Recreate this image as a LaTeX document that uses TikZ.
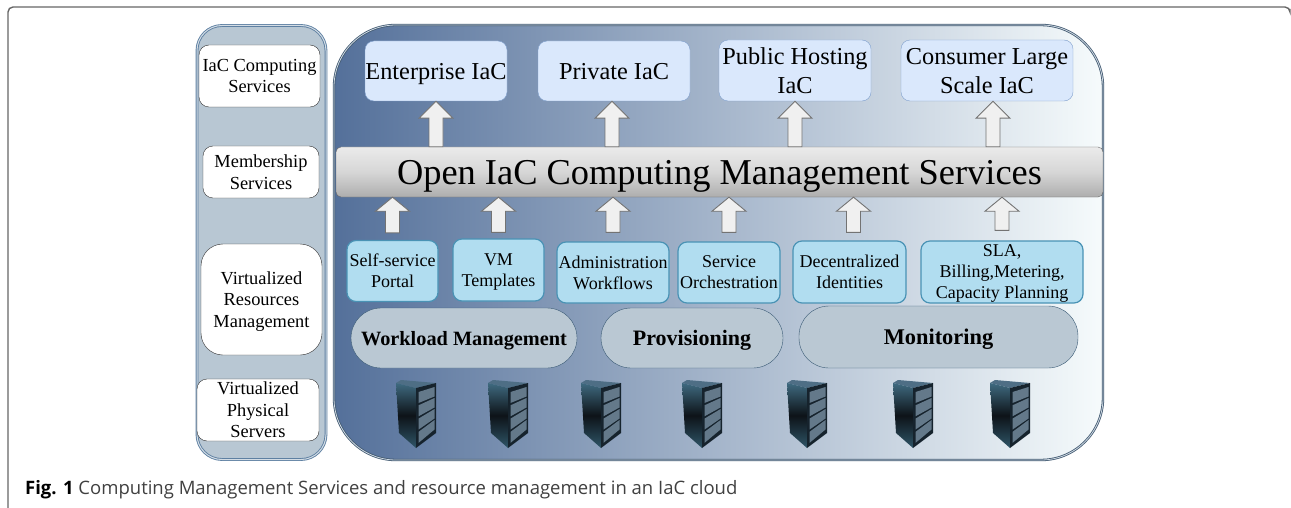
\documentclass[tikz,border=0pt]{standalone}
\usepackage{fontspec}
\setmainfont{Liberation Serif}
\setsansfont{Open Sans}
\usetikzlibrary{calc}

\definecolor{panL}{HTML}{54709A}
\definecolor{panM}{HTML}{A3B2C7}
\definecolor{panR}{HTML}{F6FBFC}
\definecolor{sideF}{HTML}{B8C7D3}
\definecolor{sideD}{HTML}{5E80A2}
\definecolor{topF}{HTML}{DAE8FC}
\definecolor{topD}{HTML}{7F9FCC}
\definecolor{smF}{HTML}{B1DDF0}
\definecolor{smD}{HTML}{4A93B5}
\definecolor{pillF}{HTML}{BAC8D3}
\definecolor{pillD}{HTML}{3A5A75}
\definecolor{srvT}{HTML}{4E6E85}
\definecolor{srvA}{HTML}{3F6A80}
\definecolor{srvB}{HTML}{0D1318}
\definecolor{srvC}{HTML}{2F5568}
\definecolor{srvF}{HTML}{16232D}
\definecolor{srvS}{HTML}{64798A}

\tikzset{
  sidebox/.style={draw=black!80, fill=white, rounded corners=10pt, inner sep=0pt, align=center, font=\fontsize{18.4}{21.5}\selectfont},
  topbox/.style={draw=topD, fill=topF, rounded corners=9pt, inner sep=0pt, align=center, text depth=-2pt, font=\fontsize{24.3}{29}\selectfont},
  smbox/.style={draw=smD, fill=smF, line width=1.2pt, rounded corners=9pt, inner sep=0pt, align=center, text depth=-2pt, font=\fontsize{18}{21}\selectfont},
  pill/.style={draw=pillD, fill=pillF, rounded corners=30pt, inner sep=0pt, text depth=0pt},
  fatarrow/.style={draw=black!55, fill=black!6, line width=0.9pt},
  server/.pic={
    \fill[srvT] (0,4) -- (5,1) -- (40,4) -- (20,9) -- cycle;
    \shade[top color=srvA, bottom color=srvC, middle color=srvB] (0,4) -- (20,9) -- (20,69) -- (3,54) -- cycle;
    \fill[srvF] (20,9) -- (40,4) -- (40,54) -- (20,69) -- cycle;
    \foreach \s in {0,1,2,3}
      \fill[srvS] (22.5,{13+13.3*\s}) -- (38.5,{8+11*\s}) -- (38.5,{17.5+11*\s}) -- (22.5,{24+13.3*\s}) -- cycle;
  }
}

% tail point, tip point, optional head height
\newcommand{\fatarrow}[3][14]{
  \draw[fatarrow] let \p1=#2, \p2=#3 in
    ({\x2-7pt},\y1) -- ({\x2-7pt},{\y2-#1pt}) -- ({\x2-17pt},{\y2-#1pt}) -- (\x2,\y2)
    -- ({\x2+17pt},{\y2-#1pt}) -- ({\x2+7pt},{\y2-#1pt}) -- ({\x2+7pt},\y1) -- cycle;
}

\begin{document}
\begin{tikzpicture}[x=1pt,y=-1pt]
\useasboundingbox (0,0) rectangle (1291,508);

% frame and caption
\draw[black!60, line width=1.4pt, rounded corners=5pt] (8,508) -- (8,7) -- (1290,7) -- (1290,9);
\node [anchor=base west, inner sep=0pt, font=\sffamily\fontsize{18.5}{22}\selectfont, text=black!75] (cap) at (25,494)
  {\textbf{\textcolor{black}{Fig. 1}} Computing Management Services and resource management in an IaC cloud};

% side column
\node [draw=sideD, fill=sideF, double=sideF!60, double distance=1pt, line width=0.9pt, rounded corners=25pt, minimum width=129pt, minimum height=434pt, inner sep=0pt] (side) at (261.5,242.5) {};
\node [sidebox, text depth=-2pt, minimum width=121pt, minimum height=62pt] (iac) at (259.5,76) {IaC Computing\\Services};
\node [sidebox, minimum width=116pt, minimum height=52pt] (memb) at (261,172) {Membership\\Services};
\node [sidebox, text depth=0pt, rounded corners=22pt, minimum width=121pt, minimum height=111pt] (virt) at (261.5,299.5) {Virtualized\\Resources\\Management};
\node [sidebox, minimum width=122pt, minimum height=62pt] (phys) at (258,410) {Virtualized\\Physical\\Servers};

% main panel
\node [draw=black!30!sideD, left color=panL, middle color=panM, right color=panR, double=white!70!sideD, double distance=0.8pt, line width=0.8pt, rounded corners=62pt, minimum width=769pt, minimum height=435pt, inner sep=0pt] (main) at (718.5,242.5) {};

\node [topbox, text depth=0pt, minimum width=142pt, minimum height=60pt] (ent) at (436,71) {Enterprise IaC};
\node [topbox, text depth=-4pt, minimum width=152pt, minimum height=60pt] (priv) at (614,71) {Private IaC};
\node [topbox, minimum width=152pt, minimum height=61pt] (pub) at (795,70.5) {Public Hosting\\IaC};
\node [topbox, minimum width=172pt, minimum height=61pt] (cons) at (987,70.5) {Consumer Large\\Scale IaC};

\node [draw=black!60, top color=black!8, bottom color=black!32, middle color=black!16, rounded corners=5pt, text depth=0pt, minimum width=767pt, minimum height=50pt, inner sep=0pt, font=\fontsize{36.4}{40}\selectfont] (bar) at (719.5,172) {Open IaC Computing Management Services};

\node [smbox, minimum width=91pt, minimum height=61pt] (self) at (392.5,271) {Self-service\\Portal};
\node [smbox, text depth=-6pt, minimum width=91pt, minimum height=62pt] (vm) at (498.5,270) {VM\\Templates};
\node [smbox, minimum width=112pt, minimum height=61pt] (admin) at (613,272.5) {Administration\\Workflows};
\node [smbox, minimum width=102pt, minimum height=61pt] (orch) at (729,272.5) {Service\\Orchestration};
\node [smbox, minimum width=113pt, minimum height=62pt] (dec) at (849.5,272) {Decentralized\\Identities};
\node [smbox, text depth=0pt, minimum width=162pt, minimum height=62pt] (sla) at (1002,272) {SLA,\\Billing,Metering,\\Capacity Planning};

\node [pill, font=\bfseries\fontsize{20.3}{24}\selectfont, minimum width=226pt, minimum height=60pt] (work) at (464,338) {Workload Management};
\node [pill, font=\bfseries\fontsize{22}{24}\selectfont, minimum width=182pt, minimum height=60pt] (prov) at (692,338) {Provisioning};
\node [pill, font=\bfseries\fontsize{22.4}{24}\selectfont, minimum width=279pt, minimum height=62pt] (mon) at (938.5,337) {Monitoring};

\foreach \px in {396,488,581,682,787,893,990}
  \pic at (\px,379) {server};

% arrows up to the top boxes
\fatarrow[17]{(bar.north -| ent.south)}{(ent.south)}
\fatarrow[17]{([xshift=-2pt]bar.north -| priv.south)}{([xshift=-2pt]priv.south)}
\fatarrow[17]{(bar.north -| pub.south)}{(pub.south)}
\fatarrow[17]{([xshift=6pt]bar.north -| cons.south)}{([xshift=6pt]cons.south)}

% arrows up to the bar
\fatarrow{([yshift=7pt]self.north)}{(bar.south -| self.north)}
\fatarrow{([yshift=6pt]vm.north)}{(bar.south -| vm.north)}
\fatarrow{([yshift=9pt]admin.north)}{(bar.south -| admin.north)}
\fatarrow{([yshift=9pt]orch.north)}{(bar.south -| orch.north)}
\fatarrow{([xshift=4pt,yshift=8pt]dec.north)}{([xshift=4pt]bar.south -| dec.north)}
\fatarrow{([yshift=10pt]sla.north)}{(bar.south -| sla.north)}

\end{tikzpicture}
\end{document}
